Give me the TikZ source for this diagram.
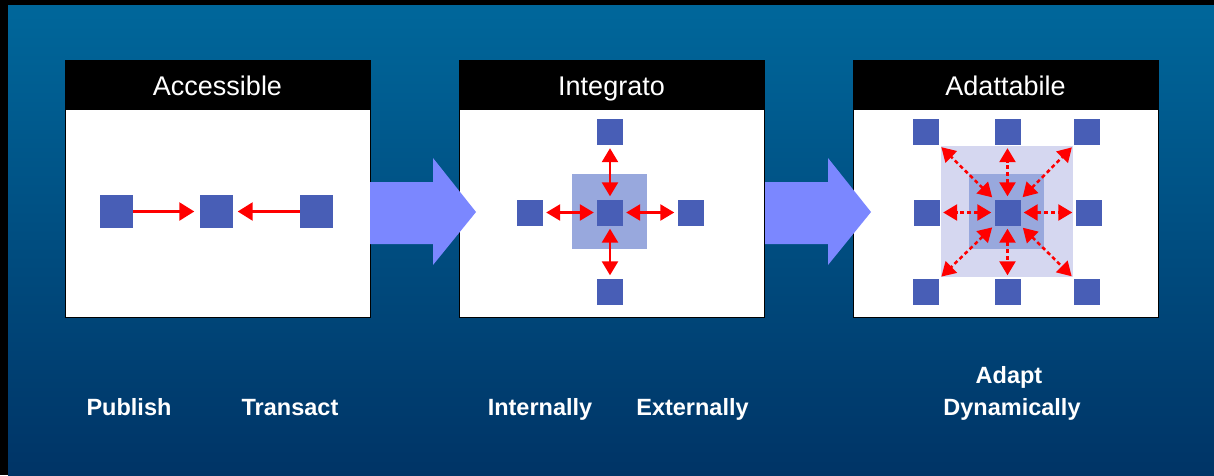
\documentclass[tikz,border=0pt]{standalone}
\usepackage{fontspec}
\setmainfont{Liberation Sans}
\usetikzlibrary{arrows.meta}
\definecolor{bgtop}{RGB}{0,103,155}
\definecolor{bgbot}{RGB}{0,52,102}
\definecolor{sqblue}{RGB}{72,94,182}
\definecolor{midbox}{RGB}{152,168,221}
\definecolor{palebox}{RGB}{213,215,240}
\definecolor{bigarrow}{RGB}{123,135,255}
\tikzset{
  sq/.style={fill=sqblue, minimum size=26pt, inner sep=0pt},
  bigsq/.style={sq, minimum size=33pt},
  link/.style={red, line width=2.5pt, -{Triangle[length=15pt,width=18pt]}},
  biglink/.style={red, line width=2.5pt, {Triangle[length=14pt,width=16pt]}-{Triangle[length=14pt,width=16pt]}, shorten <=3pt, shorten >=3pt},
  dashlink/.style={biglink, dash pattern=on 4pt off 3pt},
  title/.style={text=white, anchor=base, font=\fontsize{27}{30}\selectfont},
  label/.style={text=white, anchor=base, font=\bfseries\fontsize{23.5}{27}\selectfont}
}
\begin{document}
\begin{tikzpicture}[x=1pt,y=-1pt]
  \useasboundingbox (0,0) rectangle (1214,475);
  \fill[black] (0,0) rectangle (1214,475);
  \shade[top color=bgtop, bottom color=bgbot] (8,5) rectangle (1214,475);
  % panels
  \foreach \x/\t/\n in {65/Accessible/acc, 459/Integrato/int, 853/Adattabile/ada} {
    \filldraw[fill=white, draw=black] (\x,60) rectangle (\x+305,317);
    \fill[black] (\x,60) rectangle (\x+305,110);
    \node[title] (\n) at (\x+152.5,95.5) {\t};
  }
  % big arrows
  \foreach \x in {370,765}
    \fill[bigarrow] (\x,182) -- (\x+63,182) -- (\x+63,158) -- (\x+106,212)
      -- (\x+63,265) -- (\x+63,244) -- (\x,244) -- cycle;
  % accessible
  \node[bigsq] (pl) at (116.5,211.5) {};
  \node[bigsq] (pc) at (216,211.5) {};
  \node[bigsq] (pr) at (316.5,211.5) {};
  \draw[link, shorten >=5pt] (pl) -- (pc);
  \draw[link, shorten >=5pt] (pr) -- (pc);
  % integrato
  \fill[midbox] (572,174) rectangle (647,249);
  \node[sq] (ic) at (610,212.5) {};
  \node[sq] (it) at (610,132) {};
  \node[sq] (ib) at (610,291.5) {};
  \node[sq] (il) at (530,212.5) {};
  \node[sq] (ir) at (690.5,212.5) {};
  \foreach \o in {it,ib,il,ir}
    \draw[biglink] (ic) -- (\o);
  % adattabile
  \fill[palebox] (941,146) rectangle (1073,277);
  \fill[midbox] (969,174) rectangle (1044,249);
  \node[sq] (ac) at (1007.5,212.5) {};
  \node[sq] (anw) at (926,132) {};
  \node[sq] (an) at (1007.5,132) {};
  \node[sq] (ane) at (1087,132) {};
  \node[sq] (aw) at (927,212.5) {};
  \node[sq] (ae) at (1088.5,212.5) {};
  \node[sq] (asw) at (926,291.5) {};
  \node[sq] (as) at (1007.5,291.5) {};
  \node[sq] (ase) at (1087,291.5) {};
  \foreach \o in {anw,an,ane,aw,ae,asw,as,ase}
    \draw[dashlink] (ac) -- (\o);
  % labels
  \node[label] (pub) at (129,415) {Publish};
  \node[label] (tra) at (290,415) {Transact};
  \node[label] (inte) at (540,415) {Internally};
  \node[label] (exte) at (692.5,415) {Externally};
  \node[label] (adap) at (1009,383) {Adapt};
  \node[label] (dyn) at (1012,415) {Dynamically};
\end{tikzpicture}
\end{document}
